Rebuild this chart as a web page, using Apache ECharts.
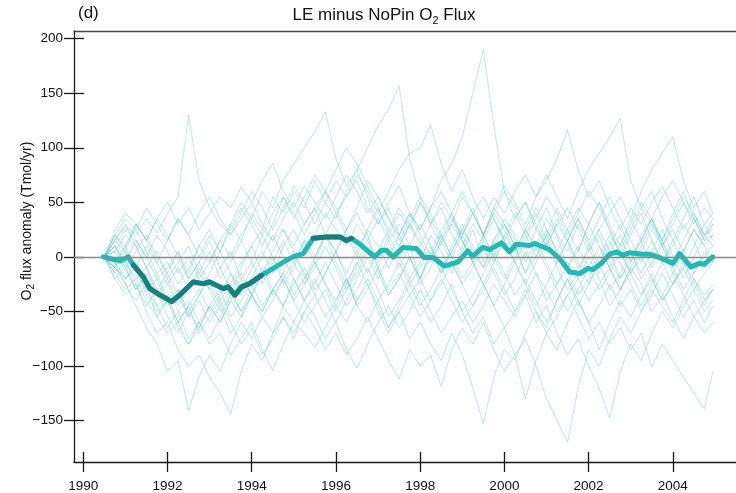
<!DOCTYPE html>
<html>
<head>
<meta charset="utf-8">
<script src="https://cdn.jsdelivr.net/npm/echarts@6/dist/echarts.min.js"></script>
<style>
html, body { margin: 0; padding: 0; background: #fff; }
#main { width: 736px; height: 493px; }
</style>
</head>
<body>
<div id="main"></div>
<script>
// sample times of the ensemble members (decimal years)
var years = [
    1990.5, 1990.75, 1991, 1991.25, 1991.5, 1991.75, 1992, 1992.25, 1992.5, 1992.75,
    1993, 1993.25, 1993.5, 1993.75, 1994, 1994.25, 1994.5, 1994.75, 1995, 1995.25,
    1995.5, 1995.75, 1996, 1996.25, 1996.5, 1996.75, 1997, 1997.25, 1997.5, 1997.75,
    1998, 1998.25, 1998.5, 1998.75, 1999, 1999.25, 1999.5, 1999.75, 2000, 2000.25,
    2000.5, 2000.75, 2001, 2001.25, 2001.5, 2001.75, 2002, 2002.25, 2002.5, 2002.75,
    2003, 2003.25, 2003.5, 2003.75, 2004, 2004.25, 2004.5, 2004.75, 2004.95
];

// ensemble members, O2 flux anomaly (Tmol/yr)
var member01 = [0, 15, 28, 20, 35, 22, 40, 55, 130, 70, 45, 30, 20, 35, 50, 30, 15, 25, 10, 30, 45, 20, 5, 25, 40, 20, -10, 15, 30, 10, -20, 5, 25, 40, 15, -5, 20, 45, 30, 10, -15, 10, 35, 20, -10, 5, 30, 50, 25, 0, 20, 40, 15, -5, 10, 30, 15, -10, 5];
var member02 = [0, -10, 5, -15, -30, -20, -45, -30, -50, -35, -20, -40, -25, -5, 10, 25, 15, 35, 50, 30, 45, 60, 40, 55, 70, 45, 30, 50, 65, 40, 25, 45, 70, 85, 110, 150, 190, 120, 60, 35, 50, 25, 10, 30, 15, -10, 5, 20, -5, -20, 0, 15, -10, 10, 25, 5, -15, 0, 10];
var member03 = [0, 20, 10, 25, 5, -15, -5, -25, -10, 10, -5, 15, 30, 15, 40, 25, 55, 40, 60, 45, 70, 50, 35, 60, 80, 100, 120, 135, 157, 90, 55, 30, 45, 20, 5, 25, -5, 15, 30, 10, -15, 0, 20, -10, -30, -15, 10, 25, 5, -20, -5, 20, 35, 15, 40, 60, 35, 15, 30];
var member04 = [0, 10, -5, 15, 0, -20, -10, 5, -15, 10, 25, 5, 30, 50, 35, 60, 45, 70, 85, 100, 115, 133, 90, 65, 80, 55, 30, 45, 20, 0, -20, 5, -15, 10, 30, 5, -10, 15, 35, 20, 0, 25, 45, 20, 5, 30, 10, -15, 5, 20, -5, 15, 35, 10, -15, 5, 25, 10, -5];
var member05 = [0, -5, -20, -10, -35, -50, -40, -60, -45, -30, -50, -35, -15, -30, -10, 5, -15, 10, 25, 5, 20, 40, 25, 10, 30, 15, -5, 20, 40, 25, 50, 35, 15, 30, 55, 40, 20, 45, 65, 50, 30, 55, 75, 55, 35, 60, 80, 95, 110, 127, 70, 45, 60, 35, 15, 35, 55, 30, 40];
var member06 = [0, 5, 20, 10, -10, 5, -20, -5, 10, -15, -30, -10, 5, -20, -5, 20, 0, -25, -10, 15, -5, 20, 40, 20, 0, 25, 45, 20, 0, -20, -5, 20, 5, -15, 10, 30, 15, -5, 20, 40, 20, 0, 20, 45, 25, 5, 30, 50, 30, 10, 35, 60, 80, 95, 110, 70, 45, 60, 40];
var member07 = [0, -15, -5, -25, -45, -30, -55, -70, -50, -65, -45, -60, -40, -55, -35, -50, -30, -45, -20, -40, -25, -5, -25, -45, -30, -10, -30, -55, -40, -20, -40, -60, -45, -25, -50, -70, -55, -80, -65, -90, -75, -100, -130, -150, -170, -120, -85, -100, -75, -55, -70, -50, -30, -45, -60, -40, -20, -35, -25];
var member08 = [0, 10, -5, -20, -10, -35, -25, -50, -40, -60, -45, -30, -55, -40, -25, -45, -30, -15, -35, -20, -5, -25, -40, -20, -45, -60, -40, -65, -50, -75, -60, -80, -95, -70, -90, -120, -153, -110, -85, -95, -70, -50, -65, -40, -20, -45, -25, -5, -30, -15, 5, -20, -5, 15, -10, 5, 25, 10, 20];
var member09 = [0, -20, -35, -25, -50, -70, -60, -85, -100, -90, -110, -125, -144, -105, -80, -95, -70, -55, -75, -50, -35, -55, -40, -20, -45, -30, -10, -35, -20, 0, -25, -10, 15, -5, -25, -10, 10, -15, -35, -20, 5, -15, -40, -25, -5, -20, 0, -20, -45, -30, -10, -25, -50, -35, -15, -35, -55, -40, -30];
var member10 = [0, -10, -25, -45, -65, -80, -105, -95, -141, -110, -90, -105, -80, -60, -75, -55, -70, -45, -60, -40, -55, -75, -60, -85, -102, -80, -60, -45, -65, -50, -30, -50, -70, -55, -40, -60, -45, -25, -40, -55, -35, -15, -30, -50, -35, -20, -40, -25, -10, -30, -15, 0, -20, -40, -25, -10, -30, -15, -5];
var member11 = [0, 15, 5, -10, 10, -5, -25, -10, -30, -15, 5, -20, -5, 15, -5, -25, -5, 15, -5, -25, -10, 10, -10, -30, -15, 5, -15, -35, -20, 0, -20, -40, -25, -5, -25, -45, -30, -10, -30, -50, -35, -60, -45, -70, -90, -75, -100, -120, -148, -105, -80, -95, -70, -50, -65, -45, -30, -50, -40];
var member12 = [0, -5, 10, -10, -25, -15, -40, -30, -55, -40, -60, -45, -70, -55, -35, -50, -30, -45, -25, -10, -30, -15, 5, -20, -40, -25, -50, -70, -50, -35, -55, -40, -20, -40, -60, -45, -25, -45, -65, -50, -30, -50, -70, -55, -35, -55, -75, -60, -80, -65, -85, -70, -101, -80, -95, -110, -125, -139, -105];
var member13 = [0, 20, 35, 25, 45, 30, 15, 35, 20, 40, 55, 35, 20, 40, 60, 45, 25, 45, 65, 50, 30, 50, 70, 55, 75, 60, 40, 60, 80, 95, 100, 121, 85, 60, 80, 55, 35, 55, 40, 60, 75, 55, 70, 90, 116, 80, 55, 70, 45, 25, 45, 30, 50, 65, 45, 25, 40, 20, 35];
var member14 = [0, -10, -20, -5, -30, -45, -35, -60, -45, -70, -55, -40, -60, -80, -65, -90, -75, -55, -70, -50, -65, -85, -70, -90, -75, -55, -75, -95, -112, -85, -100, -90, -119, -85, -65, -80, -60, -85, -105, -90, -130, -95, -70, -85, -60, -40, -60, -45, -25, -45, -30, -50, -35, -15, -35, -55, -40, -60, -45];
var member15 = [0, 5, -10, -30, -20, -45, -65, -50, -75, -60, -80, -70, -90, -75, -60, -85, -104, -80, -60, -70, -83, -65, -45, -60, -40, -20, -40, -25, -5, -25, -10, 10, -10, 5, 25, 10, -10, 10, 30, 15, -5, 15, -5, -25, -10, 10, -10, -30, -15, 5, -15, -35, -20, -40, -25, -5, -20, -40, -30];
var member16 = [0, 25, 40, 30, 15, 35, 50, 30, 45, 25, 40, 55, 45, 64, 50, 70, 86, 60, 45, 65, 50, 35, 55, 75, 60, 40, 55, 35, 20, 40, 25, 45, 60, 40, 20, 40, 55, 35, 15, 35, 50, 30, 10, 30, 45, 25, 5, 25, 40, 55, 35, 15, 35, 55, 70, 50, 30, 45, 35];
var member17 = [0, -15, -30, -20, -40, -55, -70, -60, -80, -65, -45, -60, -40, -20, -35, -15, 0, -20, -5, 15, 0, 20, 5, -15, 5, 25, 10, -10, 10, 30, 15, -5, 15, 35, 20, 0, 20, 40, 25, 5, 25, 45, 25, 5, -15, -35, -20, 0, 20, 5, -15, 5, 25, 10, -10, -30, -15, 5, -5];
var member18 = [0, 10, 25, 15, 0, 20, 5, -15, 0, -20, -5, 15, 0, 20, 35, 20, 40, 55, 35, 55, 75, 60, 80, 100, 85, 65, 45, 25, 45, 30, 10, 30, 50, 35, 15, -5, 15, 35, 15, -5, 15, 35, 55, 40, 20, 40, 60, 45, 25, 5, 25, 45, 30, 10, 30, 50, 35, 15, 20];
var member19 = [0, 10, -10, 5, 20, 0, -15, 5, -20, -5, 15, -10, -30, -10, 10, -15, 5, 25, 5, -20, 0, 20, -5, -25, -5, 15, 35, 15, -10, 10, 30, 10, -15, 5, 25, 45, 20, 0, -20, 0, 20, 40, 15, -5, 15, 35, 15, -10, 10, 30, 5, -15, 5, 25, 0, -20, 0, 20, 10];
var member20 = [0, -20, -10, -30, -15, -35, -20, -45, -30, -10, -30, -50, -35, -15, -35, -55, -40, -20, -40, -25, -5, -25, -45, -25, -5, -25, -45, -65, -45, -25, -45, -30, -10, -30, -50, -35, -15, 5, -15, -35, -20, -40, -60, -40, -20, -40, -60, -85, -60, -40, -55, -35, -15, -35, -55, -75, -55, -70, -60];
var member21 = [0, 20, 5, 30, 15, -5, 15, 35, 20, 0, 20, 5, 25, 45, 30, 10, 30, 55, 40, 20, 40, 60, 45, 25, 45, 70, 55, 35, 15, 35, 55, 40, 20, 0, 20, 40, 20, 40, 60, 45, 25, 5, 25, 5, 25, 45, 30, 10, -10, 10, 30, 50, 35, 15, -5, 15, 35, 20, 30];
var member22 = [0, -5, -25, -40, -25, -55, -40, -65, -80, -60, -75, -55, -35, -50, -30, -10, -30, -15, 5, -15, -35, -15, 5, 25, 5, -15, 5, 25, 10, 30, 50, 30, 10, 30, 15, -5, -25, -5, 15, -5, -25, -45, -25, -5, 15, 35, 15, 35, 55, 35, 15, -5, 15, -5, -25, -10, 10, 30, 15];
var member23 = [0, 15, 30, 10, -10, -30, -15, -35, -55, -35, -15, 5, -15, -35, -20, 0, 20, 0, -20, -40, -20, -40, -60, -40, -20, 0, -20, 0, 20, 40, 20, 0, 20, 0, -20, -5, -25, -45, -25, -5, -25, -5, 15, 35, 15, -5, -25, -5, 15, -5, -25, -45, -25, -5, 15, -5, -25, -45, -30];
var member24 = [0, -10, 10, 30, 15, 35, 20, 0, -20, -5, -25, -45, -30, -50, -35, -15, -35, -20, -40, -60, -45, -30, -50, -30, -10, 10, -10, -30, -15, -35, -20, 0, 20, 40, 60, 40, 20, 0, 20, 5, 25, 10, -10, -30, -50, -30, -10, 10, -10, -30, -10, 10, 30, 15, 35, 55, 40, 20, 25];

var members = [member01, member02, member03, member04, member05, member06, member07, member08,
    member09, member10, member11, member12, member13, member14, member15, member16,
    member17, member18, member19, member20, member21, member22, member23, member24];

// ensemble mean
var meanYears = [1990.48, 1990.63, 1990.87, 1991.07, 1991.19, 1991.42, 1991.58, 1991.82, 1992.1, 1992.29,
    1992.61, 1992.85, 1993.0, 1993.32, 1993.44, 1993.6, 1993.76, 1993.95, 1994.23, 1994.5,
    1994.83, 1994.98, 1995.22, 1995.46, 1995.77, 1996.09, 1996.25, 1996.37, 1996.56, 1996.92,
    1997.08, 1997.2, 1997.36, 1997.59, 1997.91, 1998.1, 1998.3, 1998.58, 1998.9, 1999.13,
    1999.25, 1999.49, 1999.65, 1999.93, 2000.12, 2000.28, 2000.6, 2000.72, 2001.07, 2001.31,
    2001.55, 2001.79, 2001.98, 2002.1, 2002.3, 2002.5, 2002.66, 2002.81, 2002.97, 2003.29,
    2003.45, 2003.68, 2004.0, 2004.16, 2004.43, 2004.63, 2004.75, 2004.95];
var meanValues = [0, -1.5, -3.7, 0, -7.6, -18, -29, -35, -41, -35,
    -23, -24.5, -23, -29, -27.5, -35, -27.5, -24.5, -17, -10.7,
    -3, 0, 3, 17, 18.3, 18.3, 15, 17, 12, 0,
    6, 6, 0, 8.6, 7.6, -0.6, -0.6, -8.5, -4.6, 5.5,
    0.6, 8.6, 6.7, 12.8, 4.6, 11.6, 10.4, 12.3, 6.7, -1.5,
    -13.8, -15.3, -10.6, -11.6, -6, 2.5, 4.6, 1.5, 3.7, 2.5,
    2.5, -0.6, -6, 3, -9.2, -6, -6.7, 0];

// periods where the mean is drawn dark
var darkPeriods = [[1991.19, 1994.23], [1995.46, 1996.37]];

var xTicks = [1990, 1992, 1994, 1996, 1998, 2000, 2002, 2004];
var yTicks = [-150, -100, -50, 0, 50, 100, 150, 200];

var FONT = 'Liberation Sans, Arial, sans-serif';
var INK = '#1a1a1a';
var xMin = 1989.78, xMax = 2005.5;
var yMin = -188, yMax = 207;

var chart = echarts.init(document.getElementById('main'));

var meanPoints = meanYears.map(function (y, i) { return [y, meanValues[i]]; });

var series = members.map(function (m) {
    return {
        type: 'line',
        data: years.map(function (y, i) { return [y, m[i]]; }),
        showSymbol: false,
        silent: true,
        z: 2,
        lineStyle: { color: '#45bfc0', width: 1, opacity: 0.36 }
    };
});

// zero line
series[series.length - 1].markLine = {
    silent: true,
    symbol: ['none', 'none'],
    label: { show: false },
    lineStyle: { color: '#8a8a8a', width: 1.3, type: 'solid' },
    data: [{ yAxis: 0 }]
};

series.push({
    type: 'line',
    data: meanPoints,
    showSymbol: false,
    silent: true,
    z: 3,
    lineStyle: { color: '#1fbab8', width: 5, cap: 'round', join: 'round' }
});

darkPeriods.forEach(function (p) {
    series.push({
        type: 'line',
        data: meanPoints.filter(function (d) { return d[0] >= p[0] && d[0] <= p[1]; }),
        showSymbol: false,
        silent: true,
        z: 4,
        lineStyle: { color: '#17807c', width: 5, cap: 'round', join: 'round' }
    });
});

var plain = function (v) { return String(v).replace('-', '\u2212'); };
var lineSt = { color: INK, width: 1.3 };

var option = {
    animation: false,
    backgroundColor: '#fff',
    grid: { left: 74, right: 0, top: 31, bottom: 31, containLabel: false },
    xAxis: [
        {
            type: 'value', position: 'bottom', min: xMin, max: xMax,
            axisLine: { show: true, onZero: false, lineStyle: lineSt },
            axisTick: { show: false },
            axisLabel: { customValues: xTicks, margin: 17, fontSize: 13.5, color: '#111', fontFamily: FONT, formatter: plain },
            splitLine: { show: false }
        },
        {
            // crossing ticks: shifted up by half their length
            type: 'value', position: 'bottom', offset: -10, min: xMin, max: xMax,
            axisLine: { show: false, onZero: false },
            axisTick: { show: true, inside: false, length: 20, customValues: xTicks, lineStyle: lineSt },
            axisLabel: { show: false },
            splitLine: { show: false }
        },
        {
            type: 'value', position: 'top', min: xMin, max: xMax,
            axisLine: { show: true, onZero: false, lineStyle: { color: '#444', width: 1.3 } },
            axisTick: { show: false },
            axisLabel: { show: false },
            splitLine: { show: false }
        }
    ],
    yAxis: [
        {
            type: 'value', position: 'left', min: yMin, max: yMax,
            axisLine: { show: true, onZero: false, lineStyle: lineSt },
            axisTick: { show: false },
            axisLabel: { customValues: yTicks, margin: 11, fontSize: 13.5, color: '#111', fontFamily: FONT, formatter: plain },
            splitLine: { show: false }
        },
        {
            type: 'value', position: 'left', offset: -10, min: yMin, max: yMax,
            axisLine: { show: false, onZero: false },
            axisTick: { show: true, inside: false, length: 20, customValues: yTicks, lineStyle: lineSt },
            axisLabel: { show: false },
            splitLine: { show: false }
        }
    ],
    graphic: [
        {
            type: 'text', left: 78, top: 5,
            style: { text: '(d)', fontSize: 17, fontFamily: FONT, fill: '#111' }
        },
        {
            type: 'text', x: 384, y: 15,
            style: {
                text: '{a|LE minus NoPin O}{s|2}{a| Flux}',
                align: 'center', verticalAlign: 'middle',
                rich: {
                    a: { fontSize: 17, lineHeight: 22, fontFamily: FONT, fill: '#111' },
                    s: { fontSize: 11, lineHeight: 12, verticalAlign: 'bottom', fontFamily: FONT, fill: '#111' }
                }
            }
        },
        {
            type: 'text', x: 27, y: 221, rotation: Math.PI / 2,
            style: {
                text: '{a|O}{s|2}{a| flux anomaly (Tmol/yr)}',
                align: 'center', verticalAlign: 'middle',
                rich: {
                    a: { fontSize: 14, lineHeight: 18, fontFamily: FONT, fill: '#111' },
                    s: { fontSize: 10, lineHeight: 10, verticalAlign: 'bottom', fontFamily: FONT, fill: '#111' }
                }
            }
        }
    ],
    series: series
};

chart.setOption(option);
</script>
</body>
</html>
